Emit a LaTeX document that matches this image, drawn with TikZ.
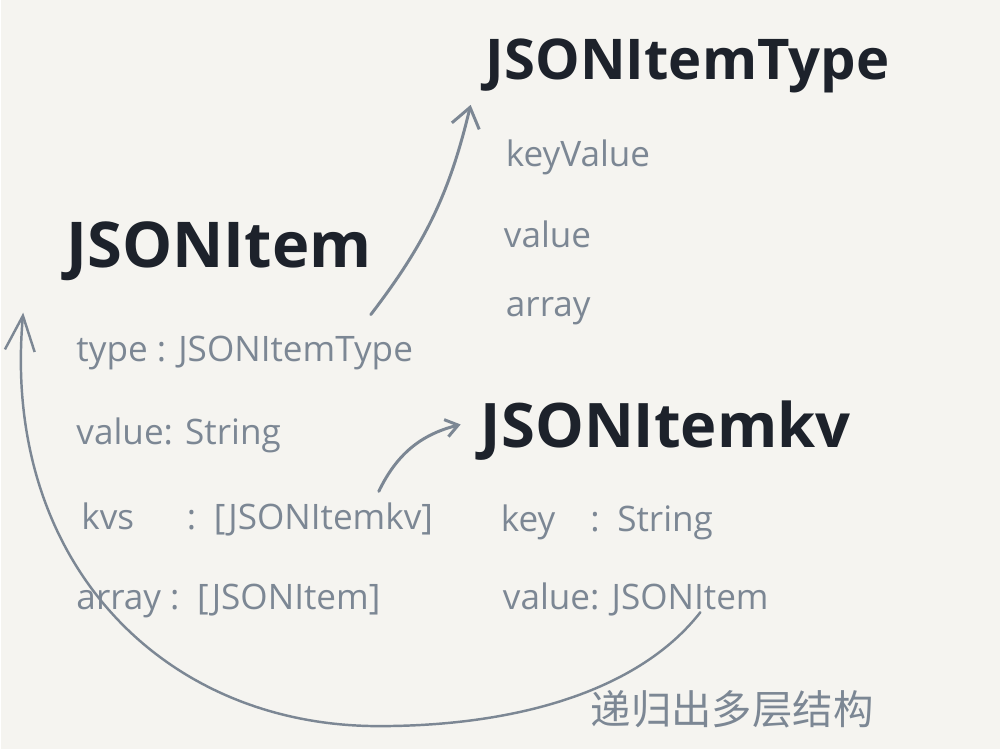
\documentclass[tikz,border=0pt]{standalone}
\usepackage{fontspec}
\setmainfont{Open Sans}
\newfontfamily\cjk{Noto Sans CJK SC}
\usepackage{xcolor}
\usepackage{tikz}
\usetikzlibrary{calc,arrows.meta}
\definecolor{paper}{HTML}{F5F4F0}
\definecolor{ink}{HTML}{1D222B}
\definecolor{pencil}{HTML}{7C8794}
\tikzset{
  head/.style={text=ink, font=\fontsize{35}{40}\selectfont\bfseries, anchor=base west, inner sep=0pt},
  field/.style={text=pencil, font=\fontsize{20}{24}\selectfont, anchor=base west, inner sep=0pt},
  note/.style={text=pencil, font=\cjk\fontsize{23}{28}\selectfont, anchor=base west, inner sep=0pt},
  link/.style={draw=pencil, line width=1.7pt, line cap=round, -{Straight Barb[length=11pt,width=16pt]}},
  recur/.style={draw=pencil, line width=1.4pt, line cap=round, -{Straight Barb[length=20pt,width=17pt]}}
}

\begin{document}
\begin{tikzpicture}[x=0.02cm, y=-0.02cm]
  \fill[paper] (0,0) rectangle (1000,750);

  % type names
  \node[head, font=\fontsize{36}{40}\selectfont\bfseries] (item) at (65,268) {JSONItem};
  \node[head, font=\fontsize{32}{38}\selectfont\bfseries] (itemtype) at (485,80) {JSONItemType};
  \node[head] (itemkv) at (480,448) {JSONItemkv};

  % JSONItemType cases
  \node[field] (tkeyvalue) at (505,167) {keyValue};
  \node[field] (tvalue) at (503,248) {value};
  \node[field] (tarray) at (505,317) {array};

  % JSONItem fields
  \node[field] (itype) at (75,362) {type : JSONItemType};
  \node[field] (ivalue) at (75,445) {value: String};
  \node[field] (ikvs) at (80,530) {kvs\quad\enspace:\enspace[JSONItemkv]};
  \node[field] (iarray) at (75,610) {array :\enspace[JSONItem]};

  % JSONItemkv fields
  \node[field] (kvkey) at (500,532) {key\quad:\enspace String};
  \node[field] (kvvalue) at (502,610) {value: JSONItem};

  \node[note] (recnote) at (590,725) {递归出多层结构};

  \coordinate (typeout) at (370,315);
  \coordinate (typetip) at (470,105);
  \coordinate (kvout) at (378,492);
  \coordinate (kvtip) at (460,425);
  \coordinate (recout) at (700,613);
  \coordinate (rectip) at (22,313);

  \draw[link] (typeout) to[bend right=12] (typetip);
  \draw[link, -{Straight Barb[length=7pt,width=10pt]}] (kvout) to[bend left=25] (kvtip);
  \draw[recur] (recout) .. controls (640,690) and (520,727) .. (378,727)
    .. controls (160,727) and (0,560) .. (rectip);
\end{tikzpicture}
\end{document}
